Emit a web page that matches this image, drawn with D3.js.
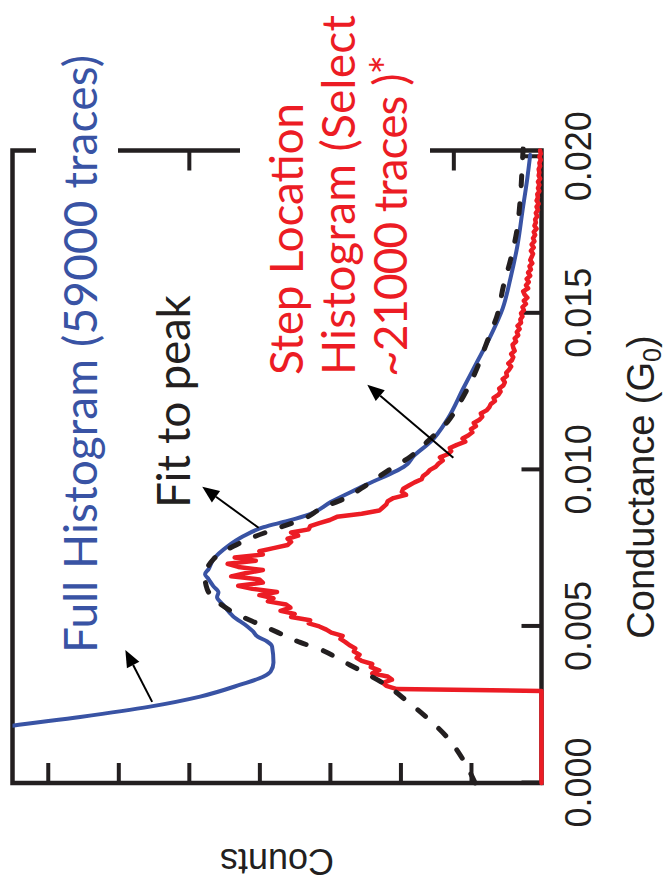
<!DOCTYPE html>
<html>
<head>
<meta charset="utf-8">
<script src="https://cdn.jsdelivr.net/npm/d3@7"></script>
<style>
  html, body { margin: 0; padding: 0; background: #fff; }
  svg { display: block; }
</style>
</head>
<body>
<svg id="chart" width="669" height="888"></svg>
<script>
// ---- Full conductance histogram (all traces) ----
const fullCond = [0.00150, 0.00183, 0.00211, 0.00244, 0.00276, 0.00314, 0.00340, 0.00356, 0.00385,
  0.00436, 0.00452, 0.00468, 0.00484, 0.00500, 0.00532, 0.00571, 0.00593, 0.00609, 0.00628,
  0.00651, 0.00667, 0.00683, 0.00715, 0.00756, 0.00788, 0.00817, 0.00837, 0.00859, 0.00897,
  0.00949, 0.01019, 0.01042, 0.01090, 0.01163, 0.01260, 0.01346, 0.01429, 0.01516, 0.01612,
  0.01718, 0.01827, 0.01933, 0.02006];
const fullCounts = [8.42, 7.50, 6.54, 5.55, 4.84, 4.27, 3.94, 3.84, 3.80,
  3.82, 3.89, 4.03, 4.09, 4.17, 4.37, 4.52, 4.60, 4.58, 4.65,
  4.72, 4.77, 4.72, 4.65, 4.45, 4.23, 3.94, 3.60, 3.28, 2.99,
  2.52, 1.90, 1.82, 1.57, 1.33, 1.11, 0.91, 0.72, 0.55, 0.44,
  0.34, 0.27, 0.20, 0.16];

// ---- Peak fit ----
const fitCond = [0, 0.00074, 0.00144, 0.00208, 0.00266, 0.00314, 0.00356, 0.00388, 0.00426,
  0.00449, 0.00481, 0.00506, 0.00538, 0.00580, 0.00619, 0.00657, 0.00715, 0.00756, 0.00785,
  0.00817, 0.00843, 0.00881, 0.00907, 0.00946, 0.01003, 0.01042, 0.01090, 0.01154, 0.01218,
  0.01301, 0.01410, 0.01500, 0.01587, 0.01670, 0.01763, 0.01869, 0.01987, 0.02026];
const fitCounts = [0.94, 1.11, 1.33, 1.62, 1.93, 2.21, 2.54, 2.81, 3.13,
  3.42, 3.74, 3.99, 4.31, 4.60, 4.74, 4.77, 4.65, 4.37, 4.09,
  3.70, 3.38, 3.09, 2.81, 2.52, 2.14, 1.86, 1.62, 1.33, 1.15,
  0.96, 0.77, 0.62, 0.54, 0.44, 0.35, 0.30, 0.27, 0.26];

// ---- Step location histogram (selected traces) ----
// empty bins below the first step, then bins of width 0.0001 G0 starting at 0.0030 G0
const stepLeadCond = [0, 0.00294];
const stepLeadCounts = [0, 0];
const stepFirstBin = 0.0030;
const stepBinWidth = 0.0001;
const stepCounts = [
  2.05, 2.20, 2.25, 2.12, 2.18, 2.40, 2.30, 2.42, 2.40, 2.55,
  2.62, 2.58, 2.66, 2.64, 2.72, 2.78, 2.85, 2.82, 2.98, 3.05,
  3.15, 3.30, 3.28, 3.55, 3.50, 3.70, 3.56, 3.62, 3.88, 3.80,
  4.00, 3.75, 4.10, 4.30, 3.95, 4.00, 4.40, 4.20, 3.95, 4.30,
  4.45, 4.05, 4.35, 3.95, 4.00, 3.80, 3.60, 3.55, 3.60, 3.45,
  3.55, 3.30, 3.28, 3.15, 3.00, 2.90, 2.55, 2.30, 2.25, 2.20,
  2.18, 2.10, 1.92, 1.98, 1.96, 1.88, 1.80, 1.70, 1.68, 1.62,
  1.58, 1.50, 1.46, 1.40, 1.44, 1.33, 1.28, 1.30, 1.20, 1.08,
  1.12, 1.04, 0.98, 1.00, 0.93, 0.96, 0.88, 0.84, 0.86, 0.78,
  0.74, 0.72, 0.66, 0.68, 0.61, 0.58, 0.60, 0.54, 0.52, 0.55,
  0.49, 0.50, 0.46, 0.43, 0.47, 0.42, 0.40, 0.43, 0.38, 0.40,
  0.41, 0.36, 0.38, 0.33, 0.35, 0.31, 0.34, 0.29, 0.30, 0.27,
  0.29, 0.25, 0.27, 0.22, 0.25, 0.20, 0.24, 0.26, 0.19, 0.22,
  0.18, 0.21, 0.16, 0.19, 0.15, 0.17, 0.13, 0.16, 0.14, 0.12,
  0.15, 0.11, 0.14, 0.10, 0.12, 0.09, 0.11, 0.07, 0.10, 0.08,
  0.09, 0.06, 0.08, 0.05, 0.07, 0.04, 0.07, 0.05, 0.06, 0.03,
  0.05, 0.03, 0.05, 0.02, 0.04, 0.03, 0.04, 0.02, 0.03, 0.01,
  0.03, 0.01, 0.02];

// ---- Axes ----
const condTicks = [0, 0.005, 0.010, 0.015, 0.020];
const condTickLabels = ["0.000", "0.005", "0.010", "0.015", "0.020"];
const countTicks = [1, 2, 3, 4, 5, 6, 7];           // along the conductance = 0 edge
const countTicksFar = [1.25, 2.5, 3.75, 5, 6.25];   // along the conductance = max edge
const condMax = 0.0202;
const countMax = 7.5;

// ---- Annotation arrows (tail -> head, in conductance / counts) ----
const arrowTails = [[0.00259, 5.52], [0.00815, 4.01], [0.01039, 1.25]];
const arrowHeads = [[0.00425, 5.90], [0.00946, 4.81], [0.01272, 2.47]];

const INK = "#231f20", BLUE = "#3953a4", RED = "#ec1c24";

const W = 632.5, H = 529;
const originX = 12.5, originY = 783;

const svg = d3.select("#chart");
// the whole plot is laid out sideways: conductance runs upward, counts run leftward
const g = svg.append("g").attr("transform", `translate(${originX},${originY}) rotate(-90)`);

const x = d3.scaleLinear().domain([0, condMax]).range([0, W]);
const y = d3.scaleLinear().domain([0, countMax]).range([H, 0]);

// screen position of a (conductance, counts) pair
const toScreen = (c, n) => [originX + y(n), originY - x(c)];

g.append("defs").append("clipPath").attr("id", "plotClip")
  .append("rect").attr("x", -4).attr("y", 0).attr("width", W + 8).attr("height", H + 4);

// frame
g.append("rect").attr("x", 0).attr("y", 0).attr("width", W).attr("height", H)
  .attr("fill", "none").attr("stroke", INK).attr("stroke-width", 4.5);

// conductance axis (counts = 0 edge)
const condAxis = g.append("g").attr("transform", `translate(0,${H})`)
  .call(d3.axisBottom(x).tickValues(condTicks).tickSizeInner(-20).tickSizeOuter(0)
    .tickFormat((d, i) => condTickLabels[i]));
condAxis.select(".domain").remove();
condAxis.selectAll(".tick line").attr("stroke", INK).attr("stroke-width", 4);
condAxis.selectAll(".tick text")
  .attr("y", 49).attr("dy", 0)
  .attr("font-family", "'Liberation Sans', Arial, sans-serif")
  .attr("font-size", 36).attr("fill", INK);

// counts ticks along the conductance = 0 edge
const countAxis = g.append("g")
  .call(d3.axisLeft(y).tickValues(countTicks).tickSizeInner(-20).tickSizeOuter(0).tickFormat(""));
countAxis.select(".domain").remove();
countAxis.selectAll(".tick line").attr("stroke", INK).attr("stroke-width", 4);

// counts ticks along the far edge
const countAxisFar = g.append("g").attr("transform", `translate(${W},0)`)
  .call(d3.axisRight(y).tickValues(countTicksFar).tickSizeInner(-20).tickSizeOuter(0).tickFormat(""));
countAxisFar.select(".domain").remove();
countAxisFar.selectAll(".tick line").attr("stroke", INK).attr("stroke-width", 4);

// axis titles
const condTitle = g.append("text")
  .attr("x", 296).attr("y", H + 112)
  .attr("text-anchor", "middle")
  .attr("font-family", "'Liberation Sans', Arial, sans-serif")
  .attr("font-size", 38).attr("fill", INK);
condTitle.append("tspan").text("Conductance (G");
condTitle.append("tspan").attr("font-size", 25).attr("dy", 7).text("0");
condTitle.append("tspan").attr("dy", -7).text(")");

g.append("text")
  .attr("transform", `translate(-66,${H / 2}) rotate(-90)`)
  .attr("text-anchor", "middle")
  .attr("font-family", "'Liberation Sans', Arial, sans-serif")
  .attr("font-size", 36).attr("fill", INK)
  .text("Counts");

// curves
const curves = g.append("g").attr("clip-path", "url(#plotClip)");

const stepCond = stepLeadCond.concat(stepCounts.map((_, i) => stepFirstBin + i * stepBinWidth));
const stepAll = stepLeadCounts.concat(stepCounts);

const lineLinear = d3.line().x(d => x(d[0])).y(d => y(d[1]));
const lineSmooth = d3.line().x(d => x(d[0])).y(d => y(d[1])).curve(d3.curveMonotoneX);

curves.append("path")
  .datum(stepCond.map((c, i) => [c, stepAll[i]]))
  .attr("d", lineLinear)
  .attr("fill", "none").attr("stroke", RED).attr("stroke-width", 4.5)
  .attr("stroke-linejoin", "round").attr("stroke-linecap", "round");

curves.append("path")
  .datum(fullCond.map((c, i) => [c, fullCounts[i]]))
  .attr("d", lineSmooth)
  .attr("fill", "none").attr("stroke", BLUE).attr("stroke-width", 4)
  .attr("stroke-linejoin", "round").attr("stroke-linecap", "round");

curves.append("path")
  .datum(fitCond.map((c, i) => [c, fitCounts[i]]))
  .attr("d", lineSmooth)
  .attr("fill", "none").attr("stroke", INK).attr("stroke-width", 5)
  .attr("stroke-dasharray", "10,18").attr("stroke-linecap", "round");

// ---- Annotations ----
const annoFont = "Lato, 'Open Sans', sans-serif";
const annoLayer = svg.append("g");

function sideways(parent, bx, by, len, color, content) {
  const t = parent.append("text")
    .attr("transform", `translate(${bx},${by}) rotate(-90)`)
    .attr("font-family", annoFont).attr("font-size", 46).attr("fill", color)
    .attr("textLength", len).attr("lengthAdjust", "spacing");
  content(t);
  return t;
}

const blueBlock = annoLayer.append("g");
const fitBlock = annoLayer.append("g");
const redBlock = annoLayer.append("g");

sideways(blueBlock, 97, 653, 598, BLUE, t => t.text("Full Histogram (59000 traces)"));
sideways(fitBlock, 190, 508, 213, INK, t => t.text("Fit to peak"));
sideways(redBlock, 303, 375, 272, RED, t => t.text("Step Location"));
sideways(redBlock, 355, 375, 360, RED, t => t.text("Histogram (Select"));
sideways(redBlock, 407, 377, 322, RED, t => {
  t.append("tspan").text("~21000 traces )");
  t.append("tspan").attr("dy", -3).text("*");
});

// white backing behind the text blocks so the frame passes under them
[[blueBlock, 16, 11], [redBlock, 18, 13]].forEach(([blk, padL, padR]) => {
  const r = blk.node().getBoundingClientRect();
  blk.insert("rect", ":first-child")
    .attr("x", r.left - padL).attr("y", r.top - 4)
    .attr("width", r.width + padL + padR).attr("height", r.height + 8)
    .attr("fill", "#fff");
});

// arrows
arrowTails.forEach((tail, i) => {
  const [x0, y0] = toScreen(tail[0], tail[1]);
  const [x1, y1] = toScreen(arrowHeads[i][0], arrowHeads[i][1]);
  const ang = Math.atan2(y1 - y0, x1 - x0);
  const hl = 17, hw = 7;
  const bx = x1 - hl * Math.cos(ang), by = y1 - hl * Math.sin(ang);
  annoLayer.append("line")
    .attr("x1", x0).attr("y1", y0).attr("x2", bx).attr("y2", by)
    .attr("stroke", "#000").attr("stroke-width", 2);
  annoLayer.append("path")
    .attr("d", `M${x1},${y1}L${bx + hw * Math.sin(ang)},${by - hw * Math.cos(ang)}L${bx - hw * Math.sin(ang)},${by + hw * Math.cos(ang)}Z`)
    .attr("fill", "#000");
});
</script>
</body>
</html>
